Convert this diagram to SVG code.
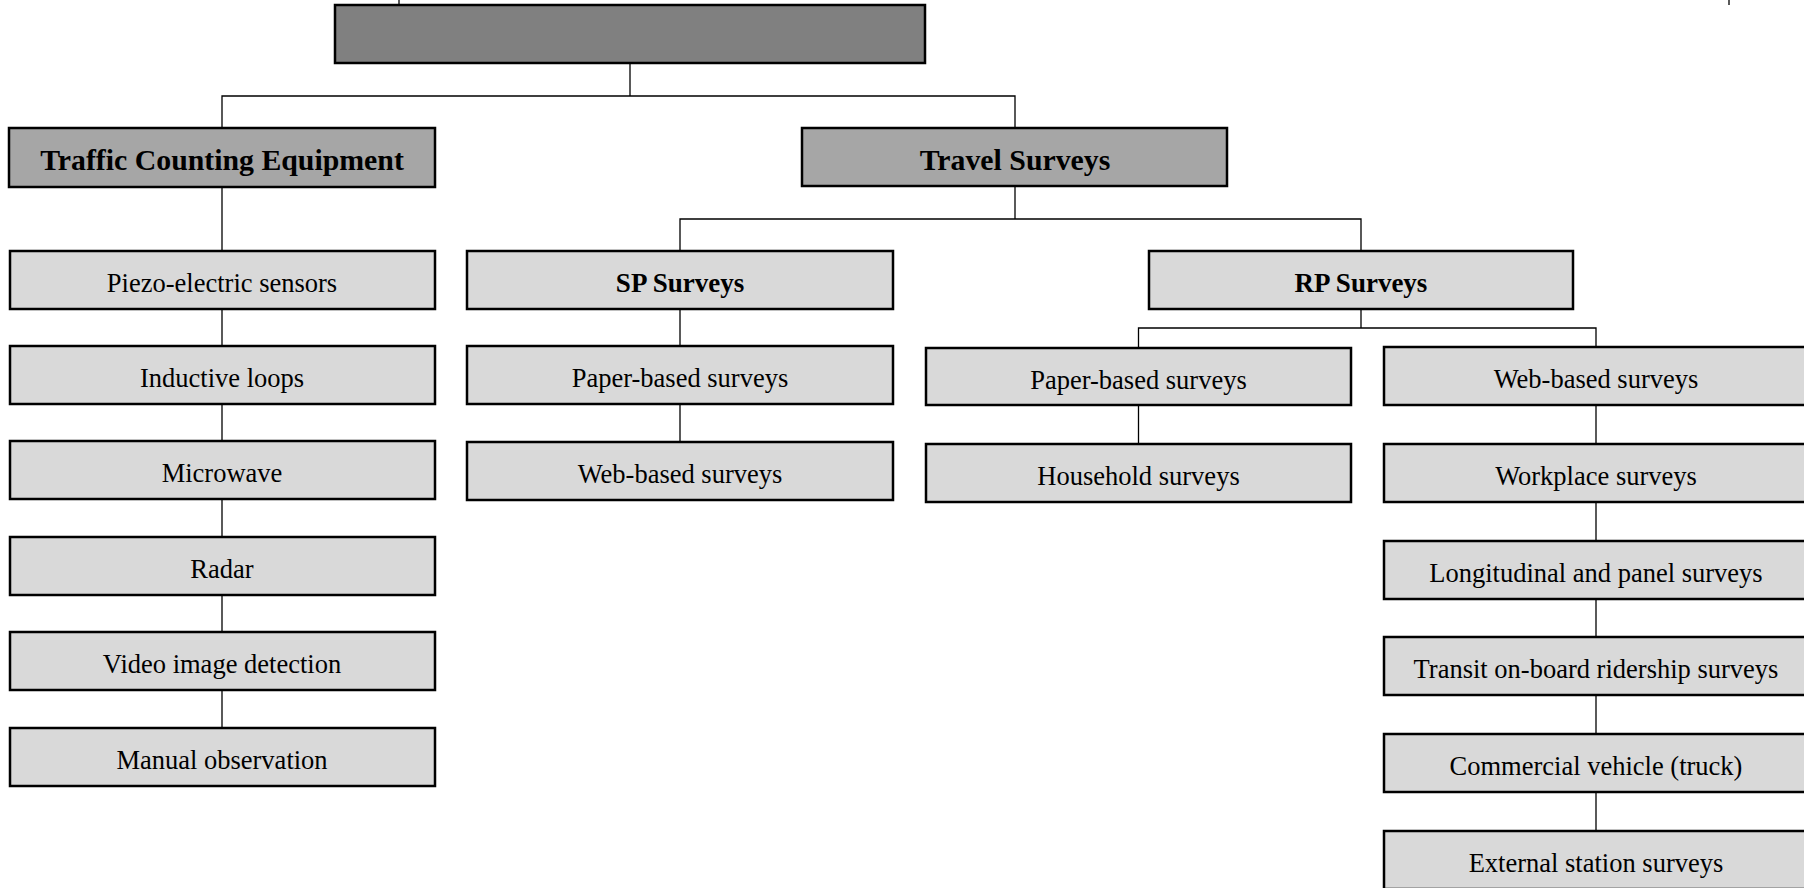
<svg xmlns="http://www.w3.org/2000/svg" width="1804" height="888" viewBox="0 0 1804 888">
<style>
  .box { stroke: #000; stroke-width: 2.5; }
  .top { fill: #808080; }
  .l1 { fill: #a6a6a6; }
  .leaf { fill: #d9d9d9; }
  .t { font-family: "Liberation Serif", "Times New Roman", serif; fill: #000; text-anchor: middle; }
  .tl { font-size: 26.5px; }
  .tb1 { font-size: 29.8px; font-weight: bold; }
  .tb2 { font-size: 27px; font-weight: bold; }
  .conn line, .conn polyline { stroke: #000; stroke-width: 1.3; fill: none; }
</style>
<rect width="1804" height="888" fill="#fff"/>
<g class="conn" id="connectors">
  <line x1="399" y1="0" x2="399" y2="5"/>
  <line x1="1729" y1="0" x2="1729" y2="5"/>
  <polyline points="630,63 630,96"/>
  <polyline points="222,128 222,96 1015,96 1015,128"/>
  <line x1="222" y1="187" x2="222" y2="251"/>
  <line x1="222" y1="309" x2="222" y2="346"/>
  <line x1="222" y1="404" x2="222" y2="441"/>
  <line x1="222" y1="499" x2="222" y2="537"/>
  <line x1="222" y1="595" x2="222" y2="632"/>
  <line x1="222" y1="690" x2="222" y2="728"/>
  <line x1="1015" y1="186" x2="1015" y2="219"/>
  <polyline points="680,251 680,219 1361,219 1361,251"/>
  <line x1="680" y1="309" x2="680" y2="346"/>
  <line x1="680" y1="404" x2="680" y2="442"/>
  <line x1="1361" y1="309" x2="1361" y2="328"/>
  <polyline points="1138.5,348 1138.5,328 1596,328 1596,347"/>
  <line x1="1138.5" y1="405" x2="1138.5" y2="444"/>
  <line x1="1596" y1="405" x2="1596" y2="444"/>
  <line x1="1596" y1="502" x2="1596" y2="541"/>
  <line x1="1596" y1="599" x2="1596" y2="637"/>
  <line x1="1596" y1="695" x2="1596" y2="734"/>
  <line x1="1596" y1="792" x2="1596" y2="831"/>
</g>
<g id="root"><rect class="box top" x="335" y="5" width="590" height="58"/></g>
<g id="traffic-counting-equipment"><rect class="box l1" x="9" y="128" width="426" height="59"/><text class="t tb1" x="222" y="170">Traffic Counting Equipment</text></g>
<g id="travel-surveys"><rect class="box l1" x="802" y="128" width="425" height="58"/><text class="t tb1" x="1015" y="170">Travel Surveys</text></g>
<g id="piezo"><rect class="box leaf" x="10" y="251" width="425" height="58"/><text class="t tl" x="222" y="292">Piezo-electric sensors</text></g>
<g id="inductive"><rect class="box leaf" x="10" y="346" width="425" height="58"/><text class="t tl" x="222" y="387">Inductive loops</text></g>
<g id="microwave"><rect class="box leaf" x="10" y="441" width="425" height="58"/><text class="t tl" x="222" y="482">Microwave</text></g>
<g id="radar"><rect class="box leaf" x="10" y="537" width="425" height="58"/><text class="t tl" x="222" y="578">Radar</text></g>
<g id="video"><rect class="box leaf" x="10" y="632" width="425" height="58"/><text class="t tl" x="222" y="673">Video image detection</text></g>
<g id="manual"><rect class="box leaf" x="10" y="728" width="425" height="58"/><text class="t tl" x="222" y="769">Manual observation</text></g>
<g id="sp-surveys"><rect class="box leaf" x="467" y="251" width="426" height="58"/><text class="t tb2" x="680" y="292">SP Surveys</text></g>
<g id="sp-paper"><rect class="box leaf" x="467" y="346" width="426" height="58"/><text class="t tl" x="680" y="387">Paper-based surveys</text></g>
<g id="sp-web"><rect class="box leaf" x="467" y="442" width="426" height="58"/><text class="t tl" x="680" y="483">Web-based surveys</text></g>
<g id="rp-surveys"><rect class="box leaf" x="1149" y="251" width="424" height="58"/><text class="t tb2" x="1361" y="292">RP Surveys</text></g>
<g id="rp-paper"><rect class="box leaf" x="926" y="348" width="425" height="57"/><text class="t tl" x="1138.5" y="389">Paper-based surveys</text></g>
<g id="household"><rect class="box leaf" x="926" y="444" width="425" height="58"/><text class="t tl" x="1138.5" y="485">Household surveys</text></g>
<g id="rp-web"><rect class="box leaf" x="1384" y="347" width="424" height="58"/><text class="t tl" x="1596" y="388">Web-based surveys</text></g>
<g id="workplace"><rect class="box leaf" x="1384" y="444" width="424" height="58"/><text class="t tl" x="1596" y="485">Workplace surveys</text></g>
<g id="longitudinal"><rect class="box leaf" x="1384" y="541" width="424" height="58"/><text class="t tl" x="1596" y="582">Longitudinal and panel surveys</text></g>
<g id="transit"><rect class="box leaf" x="1384" y="637" width="424" height="58"/><text class="t tl" x="1596" y="678">Transit on-board ridership surveys</text></g>
<g id="commercial"><rect class="box leaf" x="1384" y="734" width="424" height="58"/><text class="t tl" x="1596" y="775">Commercial vehicle (truck)</text></g>
<g id="external"><rect class="box leaf" x="1384" y="831" width="424" height="58"/><text class="t tl" x="1596" y="872">External station surveys</text></g>
</svg>
